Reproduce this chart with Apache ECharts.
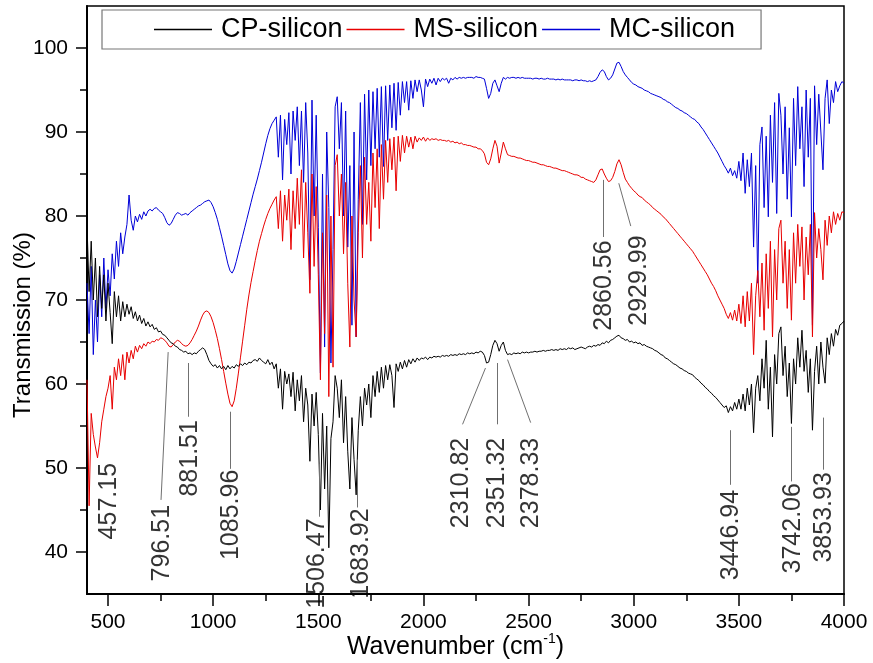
<!DOCTYPE html>
<html><head><meta charset="utf-8">
<script src="https://cdn.jsdelivr.net/npm/echarts@6/dist/echarts.min.js"></script>
<style>html,body{margin:0;padding:0;background:#fff}#c{width:873px;height:663px}</style>
</head><body><div id="c"></div>
<script>
const wavenumbers = [
400,410,420,430,440,450,460,470,480,490,
500,510,520,530,540,550,560,570,580,590,
600,610,620,630,640,650,660,670,680,690,
700,710,720,730,740,750,760,770,780,790,
800,810,820,830,840,850,860,870,880,890,
900,910,920,930,940,950,960,970,980,990,
1000,1010,1020,1030,1040,1050,1060,1070,1080,1090,
1100,1110,1120,1130,1140,1150,1160,1170,1180,1190,
1200,1210,1220,1230,1240,1250,1260,1270,1280,1290,
1300,1310,1320,1330,1340,1350,1360,1370,1380,1390,
1400,1410,1420,1430,1440,1450,1460,1470,1480,1490,
1500,1510,1520,1530,1540,1550,1560,1570,1580,1590,
1600,1610,1620,1630,1640,1650,1660,1670,1680,1690,
1700,1710,1720,1730,1740,1750,1760,1770,1780,1790,
1800,1810,1820,1830,1840,1850,1860,1870,1880,1890,
1900,1910,1920,1930,1940,1950,1960,1970,1980,1990,
2000,2010,2020,2030,2040,2050,2060,2070,2080,2090,
2100,2110,2120,2130,2140,2150,2160,2170,2180,2190,
2200,2210,2220,2230,2240,2250,2260,2270,2280,2290,
2300,2310,2320,2330,2340,2350,2360,2370,2380,2390,
2400,2410,2420,2430,2440,2450,2460,2470,2480,2490,
2500,2510,2520,2530,2540,2550,2560,2570,2580,2590,
2600,2610,2620,2630,2640,2650,2660,2670,2680,2690,
2700,2710,2720,2730,2740,2750,2760,2770,2780,2790,
2800,2810,2820,2830,2840,2850,2860,2870,2880,2890,
2900,2910,2920,2930,2940,2950,2960,2970,2980,2990,
3000,3010,3020,3030,3040,3050,3060,3070,3080,3090,
3100,3110,3120,3130,3140,3150,3160,3170,3180,3190,
3200,3210,3220,3230,3240,3250,3260,3270,3280,3290,
3300,3310,3320,3330,3340,3350,3360,3370,3380,3390,
3400,3410,3420,3430,3440,3450,3460,3470,3480,3490,
3500,3510,3520,3530,3540,3550,3560,3570,3580,3590,
3600,3610,3620,3630,3640,3650,3660,3670,3680,3690,
3700,3710,3720,3730,3740,3750,3760,3770,3780,3790,
3800,3810,3820,3830,3840,3850,3860,3870,3880,3890,
3900,3910,3920,3930,3940,3950,3960,3970,3980,3990,
4000];

const cpSilicon = [
79,71,77,70,75,68,74,69,73,67.5,
72,68.5,64.8,71,68,70.5,67.5,69.8,68,69.5,
68.3,69.2,67.8,68.6,67.5,68.2,67.2,67.8,66.9,67.4,
66.8,67.1,66.5,66.7,66.2,66.3,65.9,65.8,65.5,65.2,
64.9,64.8,64.5,64.4,64.1,64,63.8,63.9,63.6,63.7,
63.5,63.7,63.6,63.9,64.1,64.3,64.1,63.5,62.8,62.4,
62.1,62.3,61.9,62.2,61.8,62.1,61.7,62.2,61.8,62.1,
61.9,62.3,62.1,62.4,62.2,62.5,62.3,62.6,62.5,62.8,
62.9,62.7,63.1,62.8,62.6,62.4,62.9,62.3,62.6,61.8,
62.4,59.5,61.8,57,61.5,60,61.2,58.5,61.4,56.8,
60.5,58,61,55.5,59.5,57.5,50.8,58.8,55,59,
54,45,56.5,47.5,55,40.5,53.5,55.5,61,59.5,
56,60.5,53,58.5,52,47.5,56,51,46.8,54.5,
58.5,55,59.5,57.5,60,56,61,58.5,61.5,59,
62,59.5,62.2,60.5,62.3,61,57.2,62.4,61.5,62.6,
61.8,62.8,62,62.9,62.4,63,62.6,63.1,62.8,63.1,
63,63.2,62.9,63.2,63.1,63.3,63.2,63.3,63.2,63.4,
63.3,63.4,63.3,63.5,63.4,63.5,63.4,63.6,63.5,63.6,
63.5,63.7,63.6,63.7,63.6,63.8,63.7,63.9,63.8,63.4,
62.5,62.6,63.5,64.6,65.2,64.8,63.9,64.6,65,64,
63.5,63.6,63.5,63.7,63.6,63.7,63.6,63.8,63.7,63.8,
63.7,63.8,63.8,63.9,63.8,63.9,63.9,64,63.9,64,
64,64.1,64,64.1,64,64.2,64.1,64.2,64.1,64.3,
64.2,64.3,64.1,64.2,64.3,64.4,64.3,64.2,64.4,64.5,
64.4,64.6,64.5,64.7,64.6,64.9,64.8,65.1,64.9,65.2,
65.3,65.5,65.7,65.8,65.5,65.4,65.2,65.3,65,65.1,
64.9,65,64.8,64.9,64.6,64.7,64.5,64.4,64.3,64.2,
64,63.9,63.7,63.5,63.4,63.1,63,62.8,62.6,62.4,
62.3,62.1,61.9,61.8,61.6,61.5,61.3,61.2,61.1,60.8,
60.6,60.4,60.1,59.9,59.6,59.4,59.1,58.9,58.6,58.4,
58.1,57.8,57.5,57.2,57.4,56.6,57.3,56.8,57.8,57,
58.2,57,58.8,56.8,59.5,57.5,60,54.2,59.5,61,
58,63,59.5,65.2,57,62,53.7,63.5,60,66,
66.8,61,64.5,58.5,62.5,55.3,63,60,65.5,62,
66.4,61.5,64,59,63,54.5,61.5,64.5,60,65,
62,60.1,65.5,63.5,66,64.5,66.5,65.8,67,67.2,
67.5];

const msSilicon = [
60.5,45.5,56.5,54,52.5,51.2,53,55.5,57,58.5,
59.5,61,57,62,60.5,63,61,63.5,60.5,63.8,
62.5,64,63,64.5,63.8,64.6,64.2,64.8,64.5,65,
64.8,65.1,65,65.3,65.2,65.5,65.4,65.2,64.9,64.5,
64.4,64.7,65,65.2,65.1,64.8,64.6,64.5,64.6,64.9,
65.3,65.8,66.3,66.9,67.6,68.2,68.6,68.7,68.5,68,
67.3,66.4,65.4,64.2,62.9,61.5,60.1,58.8,57.7,57.3,
58,59.5,61.3,63.2,65.1,67,68.9,70.6,72.1,73.4,
74.7,75.9,77,77.9,78.8,79.6,80.3,80.9,81.4,81.9,
82.3,78.5,83,77,82.5,79.5,83.2,76,83,78.5,
84.5,79,85.5,75,84,78,70.8,85,74,83.5,
73,60.5,78,66,82.5,58.5,80,62,86,87.3,
80,85,75.5,84,72,64.4,80,70,65.6,78,
86,75,87,79,84,77,87.5,81,88,78.5,
88.5,82,89,84,89.2,85.5,89.4,83,89.5,86.5,
89.6,87.5,89.5,88.2,89.4,88,89.5,88.8,89.3,89,
89.4,88.9,89.3,89,89.2,89.1,89.2,89,89.1,89,
89,88.9,89,88.8,88.9,88.7,88.8,88.6,88.7,88.5,
88.5,88.4,88.4,88.3,88.2,88.2,88,88,87.8,87.4,
86.4,86.1,86.8,88,89,88.3,86.3,87.5,88.8,88,
87.3,87.2,87.1,87.1,87,86.9,86.9,86.8,86.7,86.6,
86.6,86.5,86.4,86.4,86.3,86.2,86.1,86.1,86,85.9,
85.9,85.8,85.7,85.7,85.6,85.5,85.4,85.4,85.3,85.2,
85.1,85,84.9,84.9,84.8,84.6,84.6,84.4,84.3,84.2,
84.1,84,84.3,84.9,85.5,85.6,85,84.5,84.1,84.2,
84.6,85.3,86.2,86.7,86.1,85.2,84.4,84,83.6,83.3,
83,82.8,82.5,82.3,82.2,81.9,81.7,81.5,81.3,81,
80.8,80.6,80.4,80.2,79.9,79.7,79.4,79.1,78.8,78.5,
78.2,77.9,77.6,77.3,77,76.7,76.4,76.1,75.8,75.4,
75,74.6,74.2,73.8,73.4,73,72.5,72,71.6,71.1,
70.5,70,69.5,69,68.3,67.8,68.5,67.6,68.8,67.5,
69.5,67.2,70.5,66.8,71,67.5,72,63.5,70.5,73.5,
68,74.4,66.4,75.5,69,77,65.6,76,70,78.5,
79.5,72,77,69,76,67.6,78,72,79,74,
78.7,70,77.5,73,79,65.6,80.4,75,78.5,76,
72.4,79.5,76.5,80,78,80.5,79,80.3,79.5,80.5,
80.4];

const mcSilicon = [
72,66,74,63.5,70,65,73,68,75,69,
73.6,70.5,75.5,72.5,77,74,78,75.5,77.5,79,
82.5,79.5,78.3,80,79.3,80.2,79.6,80.5,80,80.6,
80.8,80.6,80.9,81,80.7,80.5,80.3,79.8,79.2,78.9,
79.1,79.6,80.1,80.4,80.3,80.1,80.2,80.3,80.1,80.4,
80.6,80.8,81,81.2,81.3,81.5,81.7,81.8,81.9,81.6,
81.1,80.4,79.6,78.6,77.6,76.5,75.4,74.3,73.5,73.2,
73.7,74.6,75.6,76.6,77.6,78.6,79.6,80.6,81.6,82.6,
83.5,84.4,85.4,86.4,87.5,88.6,89.6,90.4,91,91.4,
91.8,87,92,84.3,91.5,88.5,92.3,85,92.5,89,
93,86,92.5,84,93.5,87.5,72.4,93.8,80,92,
78.6,61.3,85,64.4,90,81,62.5,76,93,94.2,
88,93.5,80,92.5,76.3,86,67,90,65.6,82,
93.5,79,94.5,84.3,95,86,94.8,88,95.2,87,
95.4,85.9,95.5,89,95.6,90.5,95.8,90.2,95.9,92,
96,93.5,96,92.6,96.1,94,96.2,94.8,96.2,95,
93,96.3,95.4,96.3,95.8,96.4,95.6,96.4,96,96.4,
96.2,96.4,95.8,96.4,96.2,96.5,96.3,96.5,96.4,96.5,
96.4,96.5,96.5,96.5,96.4,96.6,96.5,96.5,96.4,96.3,
95.2,94,94.6,95.8,96.2,95.5,94.8,95.8,96.5,96.3,
96.5,96.4,96.5,96.5,96.4,96.5,96.4,96.5,96.4,96.4,
96.4,96.4,96.3,96.4,96.4,96.3,96.4,96.3,96.3,96.4,
96.3,96.3,96.3,96.2,96.3,96.2,96.3,96.2,96.2,96.2,
96.2,96.1,96.2,96.2,96.1,96.2,96.1,96.1,96,96.1,
96,96.1,96.2,96.6,97.1,97.4,97.2,96.6,96.2,96.4,
96.8,97.5,98.2,98.3,97.8,97.2,96.8,96.5,96.2,95.9,
95.7,95.6,95.4,95.3,95.2,95,94.9,94.8,94.6,94.5,
94.4,94.3,94.2,94.1,93.9,93.8,93.6,93.5,93.3,93.1,
92.9,92.8,92.6,92.5,92.3,92.2,92,91.8,91.6,91.5,
91.2,91,90.6,90.3,89.9,89.5,89.1,88.7,88.3,87.9,
87.5,87,86.5,86,85.6,85.1,85.7,84.8,85.4,84.5,
86.5,84.2,87.5,82.7,86.7,83.5,87.5,76.3,86,72,
88.5,90.6,81,89.5,79.9,92,84,93.5,80.3,94.6,
92,85,93,82,90.5,79.9,94,86,95.4,88,
93,83.5,95,87,94,67,95.5,88.5,94.5,90,
85.5,94,96.2,91,95,93.5,96,94.8,95.5,96,
95.8];

const seriesNames = ['CP-silicon', 'MS-silicon', 'MC-silicon'];
const xTicks = [500, 1000, 1500, 2000, 2500, 3000, 3500, 4000];
const xMinorTicks = [750, 1250, 1750, 2250, 2750, 3250, 3750];
const yTicks = [40, 50, 60, 70, 80, 90, 100];
const yMinorTicks = [45, 55, 65, 75, 85, 95];

const peakLabels = ['457.15','796.51','881.51','1085.96','1506.47','1683.92','2310.82','2351.32','2378.33','2860.56','2929.99','3446.94','3742.06','3853.93'];
const peakTextAt = [[505,50.6],[757,45.6],[890,55.7],[1086,49.8],[1495,44.0],[1705,45.2],[2181,53.6],[2352,53.6],[2514,53.6],[2857,77.1],[3024,77.7],[3462,47.4],[3757,48.2],[3905,49.5]];
const leaderLines = [
  [[786,63.8],[752,46.2]],
  [[881,62.5],[881,56.1]],
  [[1081,56.7],[1081,49.9]],
  [[1505,50.5],[1505,44.2]],
  [[1686,51],[1686,45.3]],
  [[2295,61.9],[2186,55.2]],
  [[2352,62.5],[2352,55.2]],
  [[2400,62.9],[2510,55.4]],
  [[2857,84.3],[2857,77.5]],
  [[2929,83.9],[2986,78.8]],
  [[3457,54.5],[3457,48]],
  [[3748,54.9],[3748,48.4]],
  [[3900,56],[3900,49.8]]
];

const FONT = "'Liberation Sans', Arial, sans-serif";
function pairs(vals) {
  const n = Math.min(vals.length, wavenumbers.length);
  const out = [];
  for (let i = 0; i < n; i++) out.push([wavenumbers[i], vals[i]]);
  return out;
}
const colors = {'CP-silicon': '#000000', 'MS-silicon': '#e80000', 'MC-silicon': '#0000d8'};
const seriesValues = {'CP-silicon': cpSilicon, 'MS-silicon': msSilicon, 'MC-silicon': mcSilicon};
const plain = function (v) { return String(v); };

const chart = echarts.init(document.getElementById('c'), null, {renderer: 'canvas'});
const axisCommon = {type: 'value', splitLine: {show: false}};
const option = {
  animation: false,
  backgroundColor: '#fff',
  color: ['#0000d8', '#e80000', '#000000'],
  grid: {left: 87, right: 29, top: 6, bottom: 69, show: true, borderColor: '#000', borderWidth: 1.5,
         containLabel: false, outerBoundsMode: 'none'},
  legend: {
    data: seriesNames.map(function (n) {
      return {name: n, icon: 'rect', itemStyle: {color: colors[n], borderWidth: 0}};
    }),
    left: 102, top: 10, orient: 'horizontal',
    itemWidth: 58, itemHeight: 1.3, itemGap: 4,
    padding: [6, 26, 6, 52], borderColor: '#777', borderWidth: 1.2,
    textStyle: {fontSize: 27, fontFamily: FONT, color: '#000', padding: [0, 0, 0, 4]}
  },
  xAxis: [
    Object.assign({}, axisCommon, {
      min: 400, max: 4000, position: 'bottom',
      axisLine: {show: true, lineStyle: {color: '#000', width: 2}},
      axisTick: {show: true, inside: false, length: 12, customValues: xTicks, lineStyle: {color: '#000', width: 1.5}},
      axisLabel: {customValues: xTicks, formatter: plain, fontSize: 21, fontFamily: FONT, color: '#000', margin: 18},
      name: '{a|Wavenumber (cm}{s|-1}{a|)}', nameLocation: 'middle', nameGap: 38, nameMoveOverlap: false,
      nameTextStyle: {fontFamily: FONT, color: '#000', padding: [0, 20, 0, 0],
        rich: {a: {fontSize: 25, fontFamily: FONT, color: '#000', lineHeight: 30},
               s: {fontSize: 14, fontFamily: FONT, color: '#000', verticalAlign: 'top', lineHeight: 30, padding: [0, 0, 14, 0]}}}
    }),
    Object.assign({}, axisCommon, {
      min: 400, max: 4000, position: 'bottom',
      axisLine: {show: false},
      axisTick: {show: true, inside: false, length: 7, customValues: xMinorTicks, lineStyle: {color: '#000', width: 1.5}},
      axisLabel: {show: false}
    })
  ],
  yAxis: [
    Object.assign({}, axisCommon, {
      min: 35, max: 105, position: 'left',
      axisLine: {show: true, lineStyle: {color: '#000', width: 2}},
      axisTick: {show: true, inside: false, length: 11, customValues: yTicks, lineStyle: {color: '#000', width: 1.5}},
      axisLabel: {customValues: yTicks, formatter: plain, fontSize: 21, fontFamily: FONT, color: '#000', margin: 19},
      name: 'Transmission (%)', nameLocation: 'middle', nameGap: 52, nameMoveOverlap: false,
      nameTextStyle: {fontSize: 24, fontFamily: FONT, color: '#000', padding: [0, 50, 0, 0]}
    }),
    Object.assign({}, axisCommon, {
      min: 35, max: 105, position: 'left',
      axisLine: {show: false},
      axisTick: {show: true, inside: false, length: 7, customValues: yMinorTicks, lineStyle: {color: '#000', width: 1.5}},
      axisLabel: {show: false}
    })
  ],
  series: []
};

// draw order: MC (bottom), MS, CP (top)
['MC-silicon', 'MS-silicon', 'CP-silicon'].forEach(function (name, k) {
  option.series.push({
    name: name, type: 'line', xAxisIndex: 0, yAxisIndex: 0,
    data: pairs(seriesValues[name]), showSymbol: false, symbol: 'none',
    color: colors[name],
    lineStyle: {color: colors[name], width: 1}, itemStyle: {color: colors[name]},
    z: 2 + k, silent: true
  });
});

option.series.push({
  type: 'lines', coordinateSystem: 'cartesian2d', xAxisIndex: 0, yAxisIndex: 0,
  data: leaderLines.map(function (l) { return {coords: l}; }),
  lineStyle: {color: '#707070', width: 1, opacity: 1}, silent: true, z: 6
});

option.series.push({
  type: 'scatter', xAxisIndex: 0, yAxisIndex: 0, symbolSize: 0.1,
  itemStyle: {color: 'rgba(0,0,0,0)'}, silent: true, z: 7,
  data: peakTextAt.map(function (p, i) { return [p[0], p[1], peakLabels[i]]; }),
  label: {show: true, position: 'inside', rotate: 90, align: 'right', verticalAlign: 'middle',
    formatter: function (p) { return p.data[2]; }, fontSize: 25, fontFamily: FONT, color: '#000'}
});

chart.setOption(option);
</script></body></html>
